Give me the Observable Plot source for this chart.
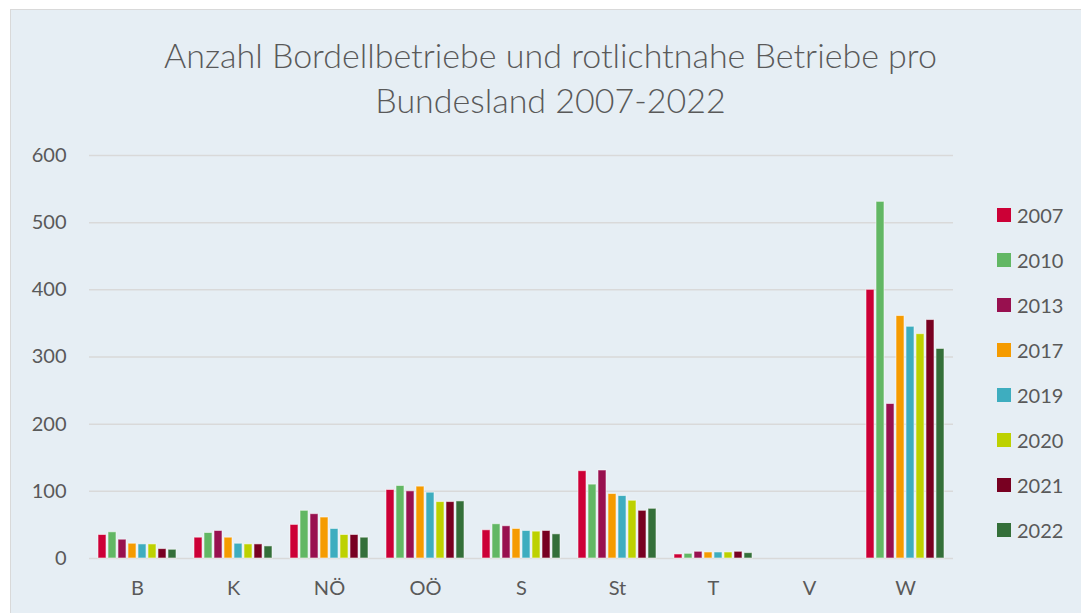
<!DOCTYPE html>
<html>
<head>
<meta charset="utf-8">
<script src="https://cdn.jsdelivr.net/npm/d3@7"></script>
<script src="https://cdn.jsdelivr.net/npm/@observablehq/plot@0.6"></script>
<style>
  html, body { margin: 0; padding: 0; background: #ffffff; }
  body { width: 1081px; height: 613px; position: relative; overflow: hidden; font-family: Lato, "Open Sans", sans-serif; }
  #panel { position: absolute; left: 10px; top: 9px; width: 1080px; height: 610px; background: #E6EEF4; border: 1px solid #D9D9D9; box-sizing: border-box; }
  #title { position: absolute; left: 0; width: 1101px; top: 32px; text-align: center; color: #595959; font-size: 34px; font-weight: 300; line-height: 45px; }
  #chart { position: absolute; left: 10px; top: 130px; }
  #legend { position: absolute; left: 997px; top: 192px; }
  .li { height: 45px; display: flex; align-items: center; color: #595959; font-size: 20px; }
  .sw { width: 14px; height: 14px; margin-right: 6px; }
</style>
</head>
<body>
<div id="panel"></div>
<div id="title">Anzahl Bordellbetriebe und rotlichtnahe Betriebe pro<br>Bundesland 2007-2022</div>
<div id="chart"></div>
<div id="legend"></div>
<script>
const lands = ["B", "K", "NÖ", "OÖ", "S", "St", "T", "V", "W"];
const years = ["2007", "2010", "2013", "2017", "2019", "2020", "2021", "2022"];
const colors = ["#CC0036", "#62B764", "#98104F", "#F59B00", "#3EADBF", "#BDD100", "#780021", "#346F39"];
const yTicks = [0, 100, 200, 300, 400, 500, 600];

const v2007 = [35, 31, 50, 102, 42, 130, 6, 0, 400];
const v2010 = [39, 38, 71, 108, 51, 110, 7, 0, 531];
const v2013 = [28, 41, 66, 100, 48, 131, 10, 0, 230];
const v2017 = [22, 31, 61, 107, 44, 96, 9, 0, 361];
const v2019 = [21, 22, 44, 98, 41, 93, 9, 0, 345];
const v2020 = [21, 21, 35, 84, 40, 86, 9, 0, 334];
const v2021 = [14, 21, 35, 84, 41, 71, 10, 0, 355];
const v2022 = [13, 18, 31, 85, 36, 74, 8, 0, 312];

const series = [v2007, v2010, v2013, v2017, v2019, v2020, v2021, v2022];
const data = [];
lands.forEach((land, i) => {
  years.forEach((year, j) => {
    data.push({land, year, value: series[j][i]});
  });
});

const chart = Plot.plot({
  width: 1071,
  height: 473,
  marginLeft: 75,
  marginRight: 124,
  marginTop: 25,
  marginBottom: 45,
  style: {background: "transparent", fontFamily: "Lato, 'Open Sans', sans-serif", fontSize: "20px", color: "#595959", overflow: "visible"},
  fx: {domain: lands, padding: 0, label: null, tickSize: 0, tickPadding: 22, axis: "bottom"},
  x: {domain: years, paddingInner: 0.2, paddingOuter: 0.9, axis: null},
  y: {domain: [0, 600], ticks: yTicks, tickSize: 0, tickPadding: 23, label: null},
  color: {domain: years, range: colors},
  marks: [
    Plot.ruleY(yTicks, {stroke: "#D9D9D9", strokeWidth: 1.5}),
    Plot.barY(data, {
      fx: "land", x: "year", y: "value", fill: "year",
      stroke: d => d.value > 0 ? "#ffffff" : "none",
      strokeOpacity: 0.55, strokeWidth: 1
    })
  ]
});
document.getElementById("chart").appendChild(chart);

const legend = document.getElementById("legend");
years.forEach((y, i) => {
  const row = document.createElement("div");
  row.className = "li";
  const sw = document.createElement("div");
  sw.className = "sw";
  sw.style.background = colors[i];
  const t = document.createElement("span");
  t.textContent = y;
  row.appendChild(sw);
  row.appendChild(t);
  legend.appendChild(row);
});
</script>
</body>
</html>
